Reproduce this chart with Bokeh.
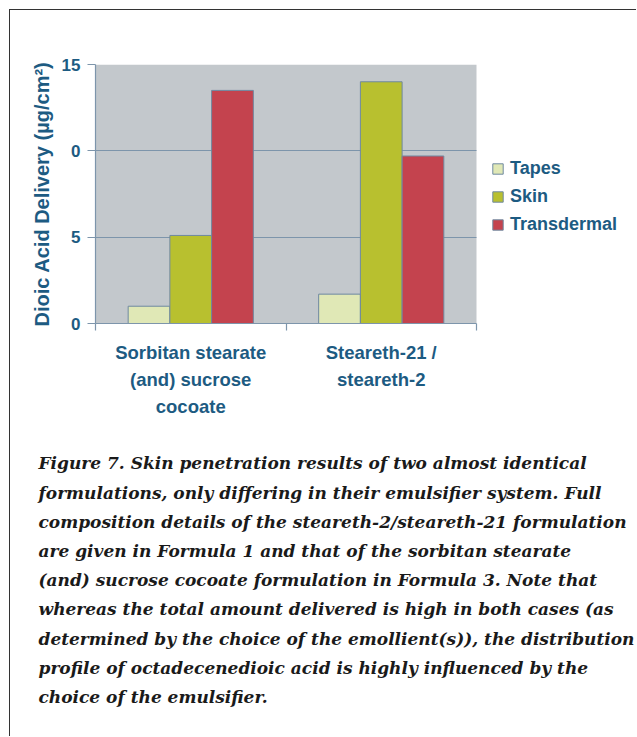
from bokeh.plotting import figure
from bokeh.models import Range1d, FixedTicker, Legend, LegendItem, Title, BoxAnnotation
from bokeh.embed import file_html
from bokeh.resources import INLINE

# ---- data ----
categories = ["Sorbitan stearate\n(and) sucrose\ncocoate", "Steareth-21 /\nsteareth-2"]
series = ["Tapes", "Skin", "Transdermal"]
tapes = [1.0, 1.7]
skin = [5.1, 14.0]
transdermal = [13.5, 9.7]
colors = ["#e0e8b6", "#b8c02f", "#c4434e"]
y_ticks = [0, 5, 10, 15]
y_tick_labels = ["0", "5", "0", "15"]
y_axis_label = "Dioic Acid Delivery (\u00b5g/cm\u00b2)"
caption_lines = [
    "Figure 7. Skin penetration results of two almost identical",
    "formulations, only differing in their emulsifier system. Full",
    "composition details of the steareth-2/steareth-21 formulation",
    "are given in Formula 1 and that of the sorbitan stearate",
    "(and) sucrose cocoate formulation in Formula 3. Note that",
    "whereas the total amount delivered is high in both cases (as",
    "determined by the choice of the emollient(s)), the distribution",
    "profile of octadecenedioic acid is highly influenced by the",
    "choice of the emulsifier.",
]

TXT = "#1d5b82"
GRID = "#7d95ab"
SANS = "Liberation Sans"

W, H = 627, 727
LEFT, RIGHT, TOP, BOTTOM = 85, 10, 54, 414
CHART_W = 381                      # width of the grey plotting area in px
frame_w = W - LEFT - RIGHT
n = len(categories)
x_max = n * frame_w / CHART_W      # extra room on the right for the legend

p = figure(width=W, height=H, output_backend="svg", toolbar_location=None,
           x_range=Range1d(0, x_max), y_range=Range1d(0, y_ticks[-1]),
           min_border_left=LEFT, min_border_right=RIGHT, min_border_top=TOP,
           min_border_bottom=BOTTOM)
p.styles = {"border-top": "1px solid #333333", "border-left": "1px solid #333333",
            "margin-top": "9px", "margin-left": "9px"}
p.background_fill_color = "white"
p.border_fill_color = "white"
p.outline_line_color = None

# grey plotting area
p.add_layout(BoxAnnotation(left=0, right=n, bottom=0, top=y_ticks[-1],
                           fill_color="#c3c8cc", fill_alpha=1, line_color=None,
                           level="image"))

bw = 0.219
renderers = []
for k, (name, vals, col) in enumerate(zip(series, [tapes, skin, transdermal], colors)):
    xs = [i + 0.5 + (k - 1) * bw for i in range(n)]
    r = p.vbar(x=xs, top=vals, width=bw, bottom=0, fill_color=col,
               line_color="#6f89a0", line_width=1)
    renderers.append((name, r))

# grid
p.xgrid.visible = False
p.ygrid.grid_line_color = GRID
p.ygrid.grid_line_width = 1.2
p.ygrid.ticker = FixedTicker(ticks=y_ticks)
p.ygrid.cross_bounds = (0, n)

# y axis
p.yaxis.ticker = FixedTicker(ticks=y_ticks)
p.yaxis.major_label_overrides = dict(zip(y_ticks, y_tick_labels))
p.yaxis.axis_line_color = GRID
p.yaxis.axis_line_width = 1.2
p.yaxis.major_tick_line_color = GRID
p.yaxis.major_tick_out = 8
p.yaxis.major_tick_in = 0
p.yaxis.minor_tick_line_color = None
p.yaxis.major_label_standoff = 7
p.yaxis.major_label_text_font = SANS
p.yaxis.major_label_text_font_style = "bold"
p.yaxis.major_label_text_font_size = "17px"
p.yaxis.major_label_text_color = TXT
p.yaxis.axis_label = y_axis_label
p.yaxis.axis_label_text_font = SANS
p.yaxis.axis_label_text_font_style = "bold"
p.yaxis.axis_label_text_font_size = "20px"
p.yaxis.axis_label_text_color = TXT
p.yaxis.axis_label_standoff = 6

# x axis
centers = [i + 0.5 for i in range(n)]
p.xaxis.bounds = (0, n)
p.xaxis.ticker = FixedTicker(ticks=centers, minor_ticks=list(range(n + 1)))
p.xaxis.major_label_overrides = dict(zip(centers, categories))
p.xaxis.axis_line_color = GRID
p.xaxis.axis_line_width = 1.2
p.xaxis.major_tick_out = 0
p.xaxis.major_tick_in = 0
p.xaxis.minor_tick_out = 7
p.xaxis.minor_tick_in = 0
p.xaxis.minor_tick_line_color = GRID
p.xaxis.minor_tick_line_width = 1.2
p.xaxis.major_label_standoff = 11
p.xaxis.major_label_text_font = SANS
p.xaxis.major_label_text_font_style = "bold"
p.xaxis.major_label_text_font_size = "18.5px"
p.xaxis.major_label_text_color = TXT
p.xaxis.major_label_text_line_height = 1.3

# legend (inside the widened frame, right of the grey area)
legend = Legend(items=[LegendItem(label=s, renderers=[r]) for s, r in renderers],
                location=(396, 88), glyph_width=13, glyph_height=13,
                label_text_font=SANS, label_text_font_style="bold",
                label_text_font_size="18px", label_text_color=TXT,
                label_standoff=6, label_height=21, spacing=7, padding=0, margin=0,
                border_line_color=None, background_fill_alpha=0)
p.add_layout(legend)

# caption as a multi-line title below the x axis
caption = Title(text="\n".join(caption_lines), align="left", offset=-57, standoff=61,
                text_font="DejaVu Serif", text_font_style="bold italic",
                text_font_size="17px", text_line_height=1.46, text_color="#1a1a1a")
p.add_layout(caption, "below")

open("out.html", "w").write(file_html(p, INLINE))
